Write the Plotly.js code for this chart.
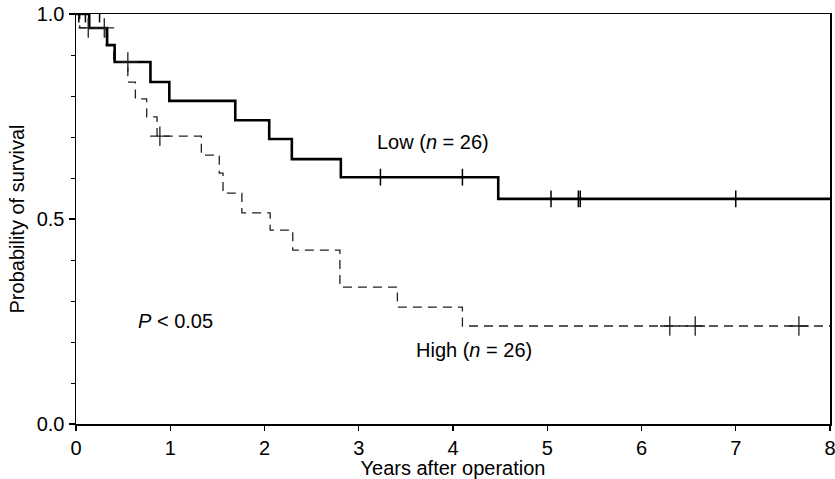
<!DOCTYPE html>
<html>
<head>
<meta charset="utf-8">
<script src="https://cdn.plot.ly/plotly-3.0.1.min.js"></script>
<style>
html,body{margin:0;padding:0;background:#fff;}
#chart{width:835px;height:479px;}
</style>
</head>
<body>
<div id="chart"></div>
<script>
// Low group (solid): step start times and survival after each step
const lowTimes = [0, 0.14, 0.33, 0.41, 0.79, 0.99, 1.69, 2.05, 2.29, 2.81, 4.48, 8];
const lowSurv  = [1.0, 0.966, 0.924, 0.883, 0.834, 0.788, 0.741, 0.695, 0.646, 0.602, 0.549, 0.549];
// Low group censored times
const lowCensT = [0.03, 0.10, 0.25, 3.23, 4.10, 5.04, 5.33, 5.35, 7.00];
const lowCensS = [1.0, 1.0, 1.0, 0.602, 0.602, 0.549, 0.549, 0.549, 0.549];

// High group (dashed)
const highTimes = [0, 0.04, 0.32, 0.40, 0.55, 0.63, 0.75, 0.86, 1.33, 1.52, 1.56, 1.76, 2.06, 2.30, 2.80, 3.41, 4.10, 8];
const highSurv  = [1.0, 0.966, 0.924, 0.883, 0.834, 0.793, 0.749, 0.702, 0.656, 0.612, 0.563, 0.515, 0.473, 0.424, 0.334, 0.285, 0.239, 0.239];
const highCensT = [0.13, 0.30, 0.55, 0.89, 6.30, 6.57, 7.67];
const highCensS = [0.966, 0.966, 0.883, 0.702, 0.239, 0.239, 0.239];

const xTicks = [0, 1, 2, 3, 4, 5, 6, 7, 8];
const yTicks = [0, 0.5, 1.0];
const yTickText = ['0.0', '0.5', '1.0'];

const FONT = 'Liberation Sans, Arial, Helvetica, sans-serif';
const FS = 20;

const traces = [
  {x: highTimes, y: highSurv, type: 'scatter', mode: 'lines',
   line: {shape: 'hv', color: '#222', width: 1.3, dash: '9px,6px'}, hoverinfo: 'skip'},
  {x: lowTimes, y: lowSurv, type: 'scatter', mode: 'lines',
   line: {shape: 'hv', color: '#000', width: 2.6}, hoverinfo: 'skip'},
  {x: lowCensT, y: lowCensS, type: 'scatter', mode: 'markers',
   marker: {symbol: 'line-ns', size: 12, line: {color: '#000', width: 1.5}}, hoverinfo: 'skip'},
  {x: highCensT, y: highCensS, type: 'scatter', mode: 'markers',
   marker: {symbol: 'cross-thin', size: 14, line: {color: '#222', width: 1.3}}, hoverinfo: 'skip'}
];

const layout = {
  width: 835, height: 479,
  margin: {l: 76, r: 5, t: 14, b: 55},
  paper_bgcolor: '#fff', plot_bgcolor: '#fff',
  showlegend: false,
  font: {family: FONT, size: FS, color: '#000'},
  xaxis: {
    range: [0, 8], tickvals: xTicks, ticktext: xTicks.map(String),
    showgrid: false, zeroline: false,
    showline: true, mirror: true, linecolor: '#000', linewidth: 1.5,
    ticks: 'outside', ticklen: 5, tickwidth: 1.2, tickcolor: '#000',
    tickfont: {family: FONT, size: FS},
    ticklabeloverflow: 'allow',
    automargin: false,
    title: {text: 'Years after operation', font: {family: FONT, size: FS}, standoff: 2}
  },
  yaxis: {
    range: [0, 1], tickvals: yTicks, ticktext: yTickText,
    showgrid: false, zeroline: false,
    showline: true, mirror: true, linecolor: '#000', linewidth: 1.5,
    ticks: 'outside', ticklen: 6, tickwidth: 1.2, tickcolor: '#000',
    minor: {dtick: 0.1, ticks: 'outside', ticklen: 4, tickwidth: 1, tickcolor: '#000', showgrid: false},
    tickfont: {family: FONT, size: FS},
    ticklabeloverflow: 'allow',
    automargin: false,
    title: {text: 'Probability of survival', font: {family: FONT, size: FS}, standoff: 6}
  },
  annotations: [
    {x: 3.79, y: 0.688, xref: 'x', yref: 'y', text: 'Low (<i>n</i> = 26)', showarrow: false,
     font: {family: FONT, size: FS}},
    {x: 4.22, y: 0.180, xref: 'x', yref: 'y', text: 'High (<i>n</i> = 26)', showarrow: false,
     font: {family: FONT, size: FS}},
    {x: 1.06, y: 0.251, xref: 'x', yref: 'y', text: '<i>P</i> < 0.05', showarrow: false,
     font: {family: FONT, size: FS}}
  ]
};

Plotly.newPlot('chart', traces, layout, {displayModeBar: false, staticPlot: true});
</script>
</body>
</html>
